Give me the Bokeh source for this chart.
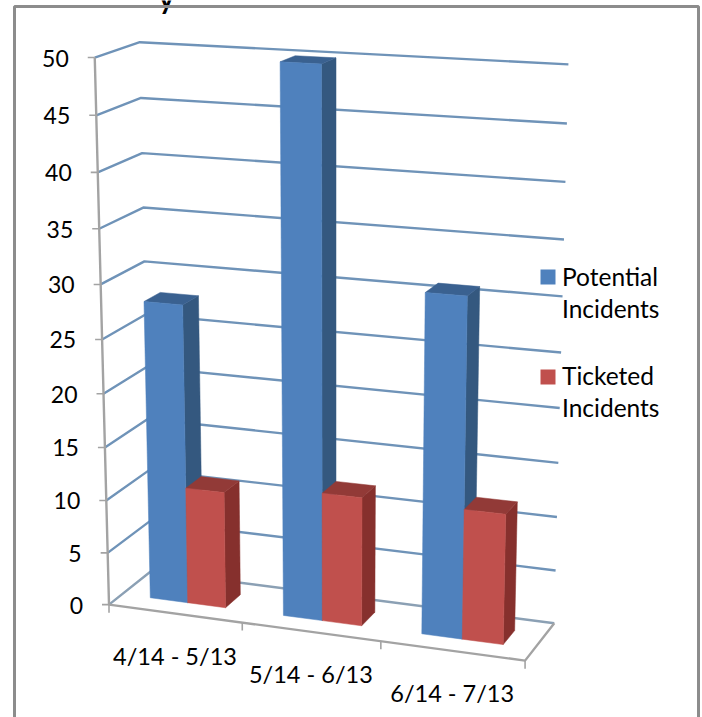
import numpy as np
from bokeh.plotting import figure
from bokeh.models import Range1d
from bokeh.core.properties import value
from bokeh.embed import file_html
from bokeh.resources import INLINE

categories = ["4/14 - 5/13", "5/14 - 6/13", "6/14 - 7/13"]
potential = [28, 50, 31]
ticketed = [11, 12, 12]
value_ticks = [0, 5, 10, 15, 20, 25, 30, 35, 40, 45, 50]
legend_lines = [["Potential", "Incidents"], ["Ticketed", "Incidents"]]
clipped_title = "y"

BLUE = ("#4f81bd", "#34587f", "#3a6190")
RED = ("#c0504d", "#86302d", "#923a37")
GRID = "#6f93b8"
AXIS = "#a3a3a3"
FONT = value("Lato")

# Projection of the chart's 3D box (category position, depth, value) to the picture
calib = [((0,0,0),(109,604)),((0,0,25),(102,338)),((0,0,50),(94,57)),
         ((0,1,0),(150,571)),((0,1,30),(144,261)),((0,1,50),(139,42)),
         ((3,0,0),(524,660)),((3,1,0),(554,622)),((3,1,25),(561,352)),((3,1,50),(568,64)),
         ((1,0,0),(242,622)),((2,0,0),(380,642))]
A, b = [], []
for (u, w, v), (x, y) in calib:
    A.append([u, w, v, 1, 0, 0, 0, 0, -x*u, -x*w, -x*v]); b.append(x)
    A.append([0, 0, 0, 0, u, w, v, 1, -y*u, -y*w, -y*v]); b.append(y)
sol = np.linalg.lstsq(np.array(A, float), np.array(b, float), rcond=None)[0]
P = np.append(sol, 1.0).reshape(3, 4)

def proj(u, w, v):
    q = P @ np.array([u, w, v, 1.0])
    return q[0] / q[2], q[1] / q[2]

def poly(points):
    pts = [proj(*t) for t in points]
    return [a for a, _ in pts], [c for _, c in pts]

p = figure(width=702, height=717, x_range=Range1d(0, 702), y_range=Range1d(717, 0),
           output_backend="svg", toolbar_location=None, min_border=0)
p.axis.visible = False
p.grid.visible = False
p.outline_line_color = None
p.background_fill_color = "white"

# the clipped title, then the outer frame
p.text([166], [-3], text=[clipped_title], text_font=FONT, text_font_size="28px", text_font_style="bold",
       text_align="center", text_baseline="alphabetic", text_color="#000000")
p.line([14, 14, 698, 698], [717, 6, 6, 717], line_color="#8c8c8c", line_width=3)

# gridlines
for v in value_ticks:
    xs, ys = poly([(0, 0, v), (0, 1, v), (3, 1, v)])
    p.line(xs, ys, line_color=GRID if v else "#8ba0b4", line_width=2.4)

# floor and axis
xs, ys = poly([(0, 0, 50), (0, 0, 0), (3, 0, 0), (3, 1, 0)])
p.line(xs, ys, line_color=AXIS, line_width=2.4)
for v in value_ticks:
    x, y = proj(0, 0, v)
    p.line([x - 7, x], [y, y], line_color=AXIS, line_width=1.6)
    p.text([x - 26], [y + 0.5], text=[str(v)], text_font=FONT, text_font_size="23px",
           text_align="right", text_baseline="middle", text_color="#000000")
for i in range(4):
    x, y = proj(i, 0, 0)
    p.line([x, x], [y, y + 8], line_color=AXIS, line_width=1.6)
for i, c in enumerate(categories):
    x, y = proj(i + 0.5, 0, 0)
    p.text([x], [y + 42], text=[c], text_font=FONT, text_font_size="23.5px",
           text_align="center", text_baseline="middle", text_color="#000000")

# bars
W0, W1 = 0.31, 0.69
def bar(u0, u1, h, colors):
    front, side, top = colors
    fx, fy = poly([(u1, W0, 0), (u1, W1, 0), (u1, W1, h), (u1, W0, h)])
    p.patch(fx, fy, fill_color=side, line_color=side, line_width=0.5)
    fx, fy = poly([(u0, W0, h), (u1, W0, h), (u1, W1, h), (u0, W1, h)])
    p.patch(fx, fy, fill_color=top, line_color=top, line_width=0.5)
    fx, fy = poly([(u0, W0, 0), (u1, W0, 0), (u1, W0, h), (u0, W0, h)])
    p.patch(fx, fy, fill_color=front, line_color=front, line_width=0.5)

for i in range(len(categories)):
    bar(i + 0.215, i + 0.5, potential[i], BLUE)
    bar(i + 0.5, i + 0.785, ticketed[i], RED)

# legend
for (first, second), col, ytop, shift in zip(legend_lines, (BLUE[0], RED[0]), (269, 369), (7, 6)):
    p.quad(left=[540], right=[555], top=[ytop], bottom=[ytop + 15], fill_color=col, line_color=None)
    for line, dy in ((first, shift), (second, shift + 32)):
        p.text([561.5], [ytop + dy], text=[line], text_font=FONT, text_font_size="24.5px",
               text_align="left", text_baseline="middle", text_color="#000000")

open("out.html", "w").write(file_html(p, INLINE))
